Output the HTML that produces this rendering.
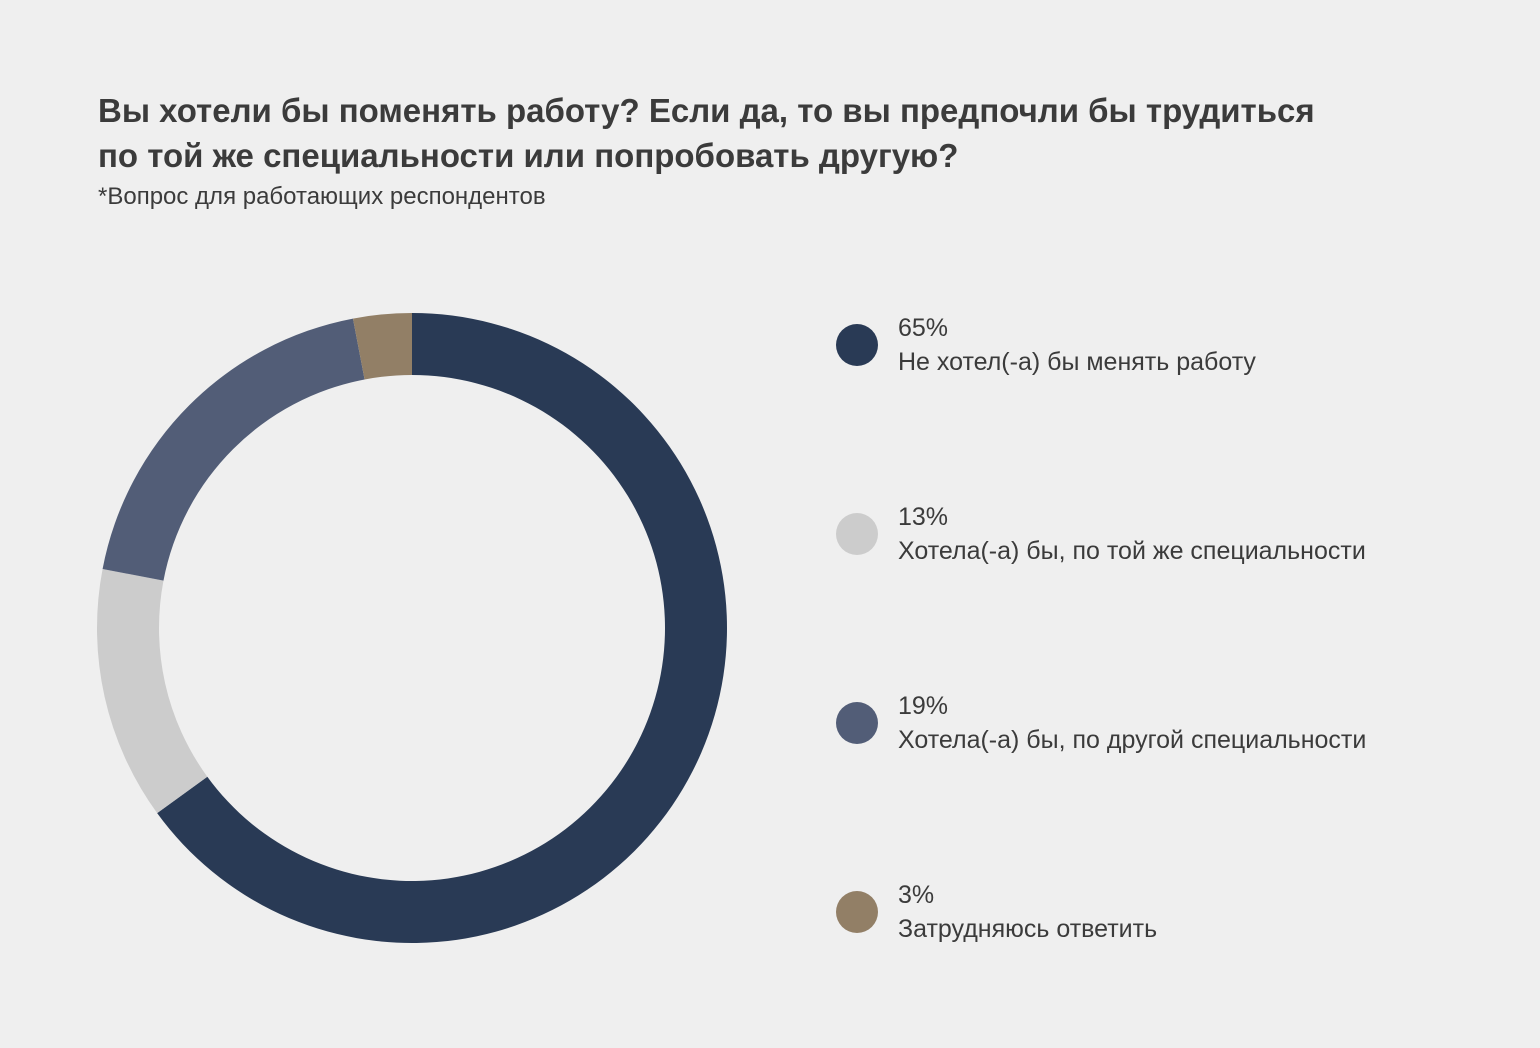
<!DOCTYPE html>
<html><head><meta charset="utf-8">
<style>
html,body{margin:0;padding:0;background:#efefef;}
body{width:1540px;height:1048px;position:relative;overflow:hidden;font-family:"Liberation Sans",sans-serif;color:#3b3b3b;}
.title{position:absolute;left:98px;top:88px;font-size:33px;font-weight:bold;line-height:45px;margin:0;}
.sub{position:absolute;left:98px;top:183px;font-size:24px;}
</style></head><body>
<h1 class="title">Вы хотели бы поменять работу? Если да, то вы предпочли бы трудиться<br>по той же специальности или попробовать другую?</h1>
<div class="sub">*Вопрос для работающих респондентов</div>
<svg id="chart" width="1540" height="1048" style="position:absolute;left:0;top:0"></svg>
<script>
const categories = ["Не хотел(-а) бы менять работу","Хотела(-а) бы, по той же специальности","Хотела(-а) бы, по другой специальности","Затрудняюсь ответить"];
const values = [65, 13, 19, 3];
const labels = ["65%","13%","19%","3%"];
const colors = ["#293a55","#cccccc","#525d77","#927f66"];
const svg = document.getElementById('chart');
const NS = "http://www.w3.org/2000/svg";
const cx = 412, cy = 628, R = 315, r = 253;
const total = values.reduce((a,b)=>a+b,0);
function pt(rad, a){ return [cx + rad*Math.sin(a), cy - rad*Math.cos(a)]; }
let acc = 0;
values.forEach((v,i)=>{
  const a0 = acc/total*2*Math.PI; acc += v;
  const a1 = acc/total*2*Math.PI;
  const large = (a1-a0) > Math.PI ? 1 : 0;
  const [x0,y0]=pt(R,a0),[x1,y1]=pt(R,a1),[x2,y2]=pt(r,a1),[x3,y3]=pt(r,a0);
  const p = document.createElementNS(NS,'path');
  p.setAttribute('d',`M${x0},${y0} A${R},${R} 0 ${large} 1 ${x1},${y1} L${x2},${y2} A${r},${r} 0 ${large} 0 ${x3},${y3} Z`);
  p.setAttribute('fill',colors[i]);
  
  
  svg.appendChild(p);
  const ly = 345 + i*189;
  const c = document.createElementNS(NS,'circle');
  c.setAttribute('cx',857); c.setAttribute('cy',ly); c.setAttribute('r',21);
  c.setAttribute('fill',colors[i]);
  
  
  svg.appendChild(c);
  const t1 = document.createElementNS(NS,'text');
  t1.setAttribute('x',898); t1.setAttribute('y',ly-9);
  t1.setAttribute('font-size','25'); t1.setAttribute('fill','#3b3b3b');
  t1.setAttribute('font-family','Liberation Sans, sans-serif');
  t1.textContent = labels[i];
  
  
  svg.appendChild(t1);
  const t2 = document.createElementNS(NS,'text');
  t2.setAttribute('x',898); t2.setAttribute('y',ly+25);
  t2.setAttribute('font-size','25'); t2.setAttribute('fill','#3b3b3b');
  t2.setAttribute('font-family','Liberation Sans, sans-serif');
  t2.textContent = categories[i];
  
  
  svg.appendChild(t2);
});
</script>
</body></html>
